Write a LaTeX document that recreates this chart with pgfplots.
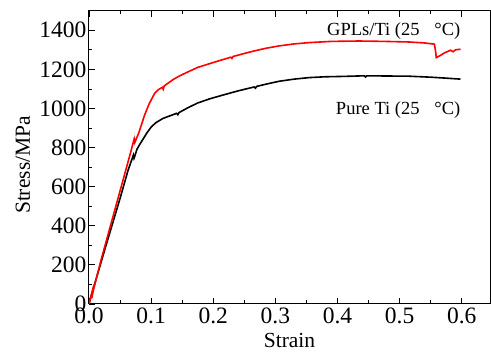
\documentclass[border=0pt]{standalone}
\usepackage{fontspec}
\setmainfont{Liberation Serif}
\usepackage{pgfplots}
\pgfplotsset{compat=1.18}
\begin{document}
\begin{tikzpicture}
\begin{axis}[
  scale only axis,
  width=401pt, height=293.3pt,
  xmin=0, xmax=0.6455, ymin=0, ymax=1500,
  xtick={0,0.1,...,0.6},
  ytick={0,200,...,1400},
  minor x tick num=1,
  minor y tick num=1,
  tick align=inside,
  xtick pos=both, ytick pos=left,
  major tick length=6pt, minor tick length=3.5pt,
  tick style={black, line width=0.8pt},
  axis line style={line width=1pt},
  /pgf/number format/assume math mode=true,
  /pgf/number format/set thousands separator={},
  xticklabel style={/pgf/number format/fixed, /pgf/number format/fixed zerofill, /pgf/number format/precision=1},
  ticklabel style={font=\fontsize{23.5}{23.5}\selectfont},
  yticklabel style={xshift=1pt},
  xlabel={Strain}, ylabel={Stress/MPa},
  label style={font=\fontsize{21.5}{21.5}\selectfont},
  xlabel style={at={(axis description cs:0.5,-0.125)}, anchor=center},
  ylabel style={at={(axis description cs:-0.165,0.474)}, anchor=center, rotate=0},
]
\addplot[black, line width=1.6pt] coordinates {
(0,0) (0.005,58) (0.025,274) (0.05,540) (0.063,685) (0.070,748) (0.0715,762) (0.0725,745) (0.0734,752) (0.077,790) (0.082,818) (0.0868,842) (0.093,874) (0.1003,906) (0.108,928) (0.119,949) (0.13,962) (0.141,975) (0.143,968) (0.145,979) (0.16,1005) (0.175,1028) (0.195,1050) (0.215,1068) (0.24,1090) (0.266,1110) (0.268,1104) (0.27,1113) (0.29,1128) (0.306,1139) (0.33,1150) (0.355,1158) (0.38,1162) (0.41,1164) (0.443,1167) (0.445,1161) (0.447,1167) (0.48,1166) (0.515,1165) (0.55,1160) (0.575,1155) (0.598,1150)
};
\addplot[red, line width=1.6pt] coordinates {
(0,0) (0.003,38) (0.005,62) (0.0045,30) (0.007,70) (0.02,232) (0.04,463) (0.06,694) (0.068,787) (0.0715,830) (0.0728,845) (0.0738,826) (0.0755,840) (0.08,874) (0.0895,966) (0.097,1025) (0.1056,1077) (0.112,1097) (0.118,1108) (0.1195,1098) (0.121,1115) (0.135,1147) (0.146,1167) (0.16,1188) (0.175,1210) (0.2,1235) (0.228,1262) (0.23,1256) (0.232,1266) (0.263,1292) (0.285,1308) (0.306,1320) (0.33,1330) (0.355,1337) (0.39,1343) (0.435,1345) (0.475,1343) (0.515,1340) (0.54,1335) (0.556,1329) (0.558,1290) (0.559,1260) (0.565,1270) (0.572,1284) (0.582,1298) (0.586,1290) (0.59,1300) (0.598,1303)
};
\node[anchor=base east, font=\fontsize{18.5}{18.5}\selectfont, inner sep=0pt] at (axis cs:0.598,1375) {GPLs/Ti (25\hspace{0.8em}\textdegree C)};
\node[anchor=base east, font=\fontsize{18.5}{18.5}\selectfont, inner sep=0pt] at (axis cs:0.598,971) {Pure Ti (25\hspace{0.8em}\textdegree C)};
\end{axis}
\pgfresetboundingbox
\path ([shift={(-89pt,-49pt)}]current axis.south west) rectangle ([shift={(1pt,10.7pt)}]current axis.north east);
\end{tikzpicture}
\end{document}
